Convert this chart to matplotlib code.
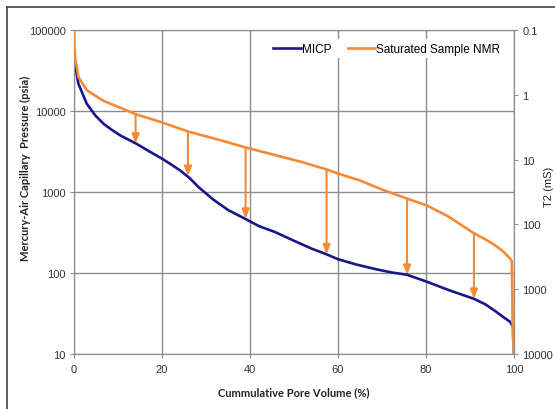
import matplotlib.pyplot as plt
import numpy as np
from matplotlib.lines import Line2D

plt.rcParams['font.family'] = ['Liberation Sans', 'DejaVu Sans']

# MICP curve: cumulative pore volume (%) vs mercury-air pressure (psia)
micp_pv = [0, 1.0, 2.9, 4.8, 6.7, 8.5, 10.5, 12.3, 14.2, 17, 20, 22, 24.1, 26.2, 28.3,
           31.6, 35, 38.9, 42, 45.7, 50, 54, 57.4, 60, 64, 68.4, 72, 75.7, 80.2, 85,
           90.9, 93.5, 95.7, 97.8, 99.1, 99.7, 100, 100]
micp_p = [44300, 21700, 12300, 8860, 6970, 5900, 5000, 4450, 3940, 3200, 2580, 2200,
          1850, 1500, 1150, 810, 600, 467, 380, 320, 250, 200, 170, 148, 128, 112,
          102, 95, 78, 62, 48, 41, 34, 28, 25, 22, 19, 10]

# NMR curve: cumulative pore volume (%) vs T2 (ms)
nmr_pv = [0, 0.05, 0.23, 1.0, 2.9, 6.7, 10.5, 13.9, 20, 26, 33.2, 39, 46.8,
          52, 57.4, 60, 65, 70, 75.7, 80.2, 85, 90.9, 93.5, 95.7, 97.5, 98.6, 99.3,
          99.5, 99.6, 99.7, 100]
nmr_t2 = [0.1, 0.15, 0.26, 0.53, 0.85, 1.24, 1.58, 1.98, 2.67, 3.7, 5.0, 6.5, 8.9,
          11, 14.2, 16.4, 21, 29, 40, 51, 75, 137, 170, 210, 260, 310,
          350, 370, 1000, 5000, 10000]

# arrows from NMR curve down to MICP curve (left axis units, psia)
arrow_x = [14.0, 25.9, 39, 57.4, 75.7, 90.9]
arrow_top = [8900, 5500, 3490, 1870, 820, 302]
arrow_bottom = [3950, 1580, 467, 170, 95, 48]

blue = "#17178a"
orange = "#f58a35"
grid_c = "#8c8c8c"
label_font = ['Lato', 'DejaVu Sans']

fig = plt.figure(figsize=(5.55, 4.10), dpi=100)
ax = fig.add_axes([74 / 555, 1 - 355 / 410, 440 / 555, 324 / 410])
ax2 = ax.twinx()

ax.set_yscale("log")
ax.set_ylim(10, 100000)
ax.set_xlim(0, 100)
ax.set_xticks([0, 20, 40, 60, 80, 100])
ax.set_yticks([10, 100, 1000, 10000, 100000])
ax.set_yticklabels(["10", "100", "1000", "10000", "100000"])
ax.minorticks_off()
ax.grid(True, color=grid_c, linewidth=1)

ax2.set_yscale("log")
ax2.set_ylim(10000, 0.1)
ax2.set_yticks([0.1, 1, 10, 100, 1000, 10000])
ax2.set_yticklabels(["0.1", "1", "10", "100", "1000", "10000"])
ax2.minorticks_off()

for a in (ax, ax2):
    for s in a.spines.values():
        s.set_color(grid_c)
    a.tick_params(labelsize=8, colors="#333333", length=3, color=grid_c, pad=3)
ax.tick_params(axis="x", pad=4)

l1, = ax.plot(micp_pv, micp_p, color=blue, linewidth=1.9, label="MICP", zorder=4)
l2, = ax2.plot(nmr_pv, nmr_t2, color=orange, linewidth=1.9,
               label="Saturated Sample NMR", zorder=4)

for x, top, bot in zip(arrow_x, arrow_top, arrow_bottom):
    ax.annotate("", xy=(x, bot), xytext=(x, top),
                arrowprops=dict(arrowstyle="-|>,head_length=0.55,head_width=0.22",
                                color=orange, lw=1.5, shrinkA=0, shrinkB=0),
                zorder=5)

leg = ax2.legend(handles=[l1, l2], loc="upper right", bbox_to_anchor=(0.99, 0.99),
                 ncol=2, frameon=True, fontsize=8.5, handlelength=2.3,
                 handletextpad=0.1, columnspacing=1.4, borderpad=0.3)
leg.get_frame().set_edgecolor("none")
leg.get_frame().set_facecolor("white")
leg.get_frame().set_alpha(1)

ax.set_xlabel("Cummulative Pore Volume (%)", fontsize=8, fontweight="bold",
              color="#222222", family=label_font)
ax.xaxis.set_label_coords(0.5, -0.1)
ax.set_ylabel("Mercury-Air Capillary  Pressure (psia)", fontsize=8,
              fontweight="bold", color="#222222", family=label_font)
ax.yaxis.set_label_coords(-0.097, 0.577)
ax2.set_ylabel("T2 (mS)", fontsize=8, color="#222222")
ax2.yaxis.set_label_coords(1.068, 0.52)

# outer frame of the picture
fig.add_artist(Line2D([7 / 555, 7 / 555], [0, 1 - 8 / 410], color="#444444", lw=1.2))
fig.add_artist(Line2D([7 / 555, 1], [1 - 8 / 410, 1 - 8 / 410], color="#444444", lw=1.2))

fig.savefig("out.png", dpi=100)
